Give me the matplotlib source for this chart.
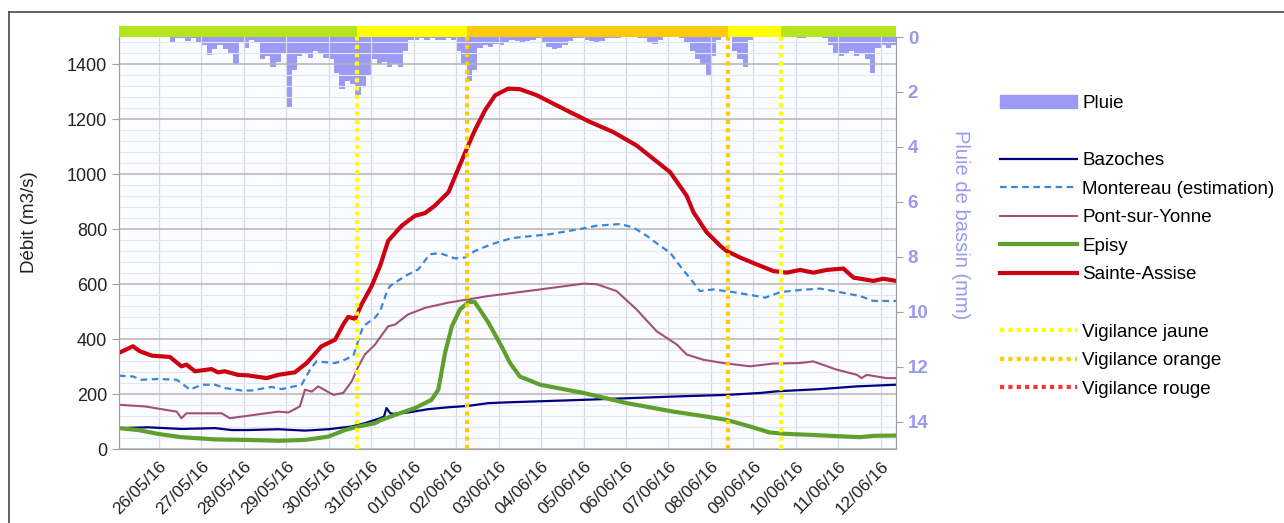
import numpy as np
import matplotlib
matplotlib.use('Agg')
import matplotlib.pyplot as plt
from matplotlib.lines import Line2D
from matplotlib.patches import Patch

plt.rcParams['font.family'] = ['Liberation Sans', 'DejaVu Sans']

# temps en jours depuis le 26/05/16 00:00
t_debut, t_fin = -0.94, 17.36
jours_labels = ['26/05/16', '27/05/16', '28/05/16', '29/05/16', '30/05/16', '31/05/16',
                '01/06/16', '02/06/16', '03/06/16', '04/06/16', '05/06/16', '06/06/16',
                '07/06/16', '08/06/16', '09/06/16', '10/06/16', '11/06/16', '12/06/16']

# pluie de bassin (mm), pas de 3h a partir du 25/05 00:00
pluie_mm = [0, 0, 0, 0, 0, 0, 0, 0,                          # 25/05
            0, 0, 0.2, 0.05, 0.05, 0.15, 0.05, 0.2,           # 26/05
            0.3, 0.65, 0.45, 0.3, 0.45, 0.6, 1.0, 0.2,        # 27/05
            0.4, 0.1, 0.2, 0.8, 0.7, 1.1, 0.9, 0.6,           # 28/05
            2.55, 1.2, 0.7, 0.6, 0.75, 0.5, 0.6, 0.75,        # 29/05
            0.8, 1.3, 1.9, 1.6, 1.7, 2.1, 1.8, 1.4,           # 30/05
            0.8, 1.0, 0.9, 1.1, 1.0, 1.1, 0.5, 0.1,           # 31/05
            0.1, 0.05, 0.1, 0.05, 0.1, 0.1, 0.05, 0.1,        # 01/06
            0.5, 1.0, 1.6, 1.2, 0.4, 0.3, 0.35, 0.25,         # 02/06
            0.3, 0.2, 0.1, 0.15, 0.2, 0.15, 0.1, 0.05,        # 03/06
            0.2, 0.35, 0.45, 0.4, 0.3, 0.15, 0.05, 0.05,      # 04/06
            0.1, 0.15, 0.2, 0.15, 0.05, 0.05, 0.05, 0.0,      # 05/06
            0, 0, 0.05, 0.05, 0.2, 0.25, 0.1, 0,              # 06/06
            0, 0, 0.05, 0.2, 0.5, 0.8, 1.0, 1.4,              # 07/06
            0.7, 0.1, 0, 0, 0.5, 0.8, 1.1, 0.1,               # 08/06
            0, 0, 0, 0, 0, 0, 0, 0,                           # 09/06
            0.05, 0.05, 0, 0, 0, 0.05, 0.3, 0.6,              # 10/06
            0.7, 0.6, 0.5, 0.7, 0.6, 0.8, 1.3, 0.4,           # 11/06
            0.3, 0.4, 0.3]                                    # 12/06

# debits (jour, m3/s)
bazoches = [(-0.94, 76), (-0.25, 79), (0.53, 73), (1.32, 76), (1.71, 69), (2.10, 69),
            (2.81, 72), (3.44, 67), (3.99, 72), (4.54, 82), (4.85, 94), (5.09, 106),
            (5.21, 112), (5.30, 118), (5.36, 149), (5.45, 130), (5.52, 128), (5.87, 133),
            (6.34, 145), (6.82, 152), (7.29, 157), (7.76, 167), (8.23, 170), (10.0, 179),
            (12.12, 191), (13.37, 197), (14.16, 204), (14.55, 210), (15.57, 218),
            (16.44, 228), (17.36, 234)]
montereau = [(-0.94, 267), (-0.61, 264), (-0.41, 252), (-0.02, 255), (0.42, 252), (0.53, 240),
             (0.73, 216), (1.01, 234), (1.32, 234), (1.55, 222), (1.95, 213), (2.18, 213),
             (2.65, 226), (2.89, 218), (3.36, 234), (3.56, 289), (3.71, 319), (4.15, 313),
             (4.38, 325), (4.58, 340), (4.73, 411), (4.81, 447), (5.09, 478), (5.21, 502),
             (5.36, 569), (5.44, 593), (5.80, 630), (6.11, 654), (6.38, 709), (6.62, 713),
             (6.97, 694), (7.21, 697), (7.44, 721), (7.84, 746), (8.23, 764), (8.43, 770),
             (9.21, 782), (9.92, 801), (10.31, 813), (10.86, 819), (11.17, 807), (11.49, 776),
             (11.80, 740), (12.04, 715), (12.27, 667), (12.59, 606), (12.74, 575), (13.06, 581),
             (13.53, 571), (14.00, 559), (14.28, 551), (14.63, 571), (15.10, 579), (15.57, 584),
             (16.04, 571), (16.51, 557), (16.83, 539), (17.36, 539)]
pont_sur_yonne = [(-0.94, 161), (-0.33, 155), (0.14, 143), (0.42, 136), (0.53, 112), (0.65, 130),
                  (1.08, 130), (1.48, 130), (1.67, 112), (1.95, 118), (2.81, 136), (3.05, 133),
                  (3.32, 155), (3.44, 216), (3.60, 209), (3.75, 228), (4.11, 197), (4.34, 204),
                  (4.54, 246), (4.70, 301), (4.85, 344), (5.09, 380), (5.17, 398), (5.40, 447),
                  (5.56, 453), (5.87, 490), (6.27, 514), (6.82, 533), (7.29, 545), (7.76, 557),
                  (8.23, 566), (8.98, 581), (10.0, 602), (10.31, 600), (10.78, 575), (11.25, 508),
                  (11.72, 429), (12.20, 380), (12.43, 344), (12.82, 325), (13.29, 313),
                  (13.92, 301), (14.47, 311), (15.10, 313), (15.41, 319), (15.96, 289),
                  (16.44, 270), (16.55, 258), (16.67, 270), (17.14, 258), (17.36, 258)]
episy = [(-0.94, 76), (-0.49, 69), (-0.02, 55), (0.53, 43), (1.32, 35), (2.10, 33), (2.81, 30),
         (3.44, 33), (3.99, 45), (4.38, 69), (4.70, 82), (5.09, 94), (5.21, 104), (5.56, 124),
         (6.03, 149), (6.42, 179), (6.58, 216), (6.74, 350), (6.90, 447), (7.09, 508),
         (7.29, 535), (7.44, 535), (7.76, 460), (8.07, 374), (8.27, 313), (8.50, 264),
         (8.98, 234), (10.0, 204), (11.02, 167), (12.12, 136), (12.90, 118), (13.37, 106),
         (13.92, 82), (14.39, 60), (14.79, 55), (15.41, 51), (16.51, 43), (16.83, 48),
         (17.36, 49)]
sainte_assise = [(-0.94, 350), (-0.61, 374), (-0.45, 356), (-0.17, 340), (0.26, 335), (0.53, 301),
                 (0.65, 307), (0.85, 283), (1.24, 291), (1.39, 279), (1.55, 283), (1.86, 270),
                 (2.10, 268), (2.54, 258), (2.81, 270), (3.20, 279), (3.48, 313), (3.83, 374),
                 (4.15, 398), (4.34, 453), (4.46, 481), (4.62, 474), (4.77, 526), (5.01, 593),
                 (5.21, 667), (5.40, 758), (5.72, 813), (6.03, 849), (6.27, 859), (6.50, 886),
                 (6.82, 935), (7.05, 1020), (7.25, 1093), (7.44, 1160), (7.68, 1233),
                 (7.92, 1288), (8.23, 1312), (8.50, 1310), (8.90, 1288), (9.60, 1233),
                 (10.15, 1191), (10.70, 1154), (11.25, 1105), (11.64, 1057), (12.04, 1008),
                 (12.43, 922), (12.59, 862), (12.90, 789), (13.22, 740), (13.37, 721),
                 (13.45, 715), (13.69, 697), (14.16, 667), (14.47, 648), (14.79, 642),
                 (15.10, 652), (15.41, 642), (15.73, 652), (16.12, 657), (16.36, 624),
                 (16.83, 612), (17.06, 620), (17.36, 612)]

# vigilances (debut de chaque periode)
vigilance_t = [t_debut, 4.66, 7.26, 13.40, 14.65, t_fin]
vigilance_niveau = ['verte', 'jaune', 'orange', 'jaune', 'verte']

couleurs_bande = {'verte': '#b5e61d', 'jaune': '#ffff00', 'orange': '#ffc90e'}
couleurs_ligne = {'jaune': '#ffff00', 'orange': '#ffcc00', 'rouge': '#ff3333'}

series = [
    ('Bazoches', bazoches, dict(color='#000080', lw=1.6)),
    ('Montereau (estimation)', montereau, dict(color='#3a86d8', lw=1.6, ls=(0, (3, 2)))),
    ('Pont-sur-Yonne', pont_sur_yonne, dict(color='#a24f7c', lw=1.5)),
    ('Episy', episy, dict(color='#5ea02e', lw=3)),
    ('Sainte-Assise', sainte_assise, dict(color='#cc0011', lw=3)),
]

W, H = 1284, 523
fig = plt.figure(figsize=(W / 100, H / 100), dpi=100)
ax = fig.add_axes([119 / W, 1 - 449 / H, (896 - 119) / W, (449 - 37) / H])
ax2 = ax.twinx()
ax.set_zorder(ax2.get_zorder() + 1)
ax.patch.set_visible(False)
ax2.patch.set_visible(True)
ax2.patch.set_facecolor('#fbfcff')

# pluie
rain_t = -1 + 0.125 * (np.arange(len(pluie_mm)) + 0.5)
ax2.bar(rain_t, pluie_mm, width=0.125, color='#9b9bf7', linewidth=0)
ax2.set_ylim(15, 0)
ax2.set_yticks(range(0, 15, 2))
ax2.tick_params(axis='y', colors='#a0a0a0', labelcolor='#9999ee', labelsize=13.5, length=5)
for lab in ax2.get_yticklabels():
    lab.set_fontweight('bold')
ax2.set_ylabel('Pluie de bassin (mm)', color='#9999ee', fontsize=14.5, rotation=270, va='center')
ax2.yaxis.set_label_coords(1.083, 0.545)

# debits
for nom, data, style in series:
    t, v = zip(*data)
    ax.plot(t, v, label=nom, solid_capstyle='round', **style)

# vigilances
for i, niveau in enumerate(vigilance_niveau):
    ax.axvspan(vigilance_t[i], vigilance_t[i + 1], ymin=1.0, ymax=1.0 + 11 / 412,
               color=couleurs_bande[niveau], clip_on=False, lw=0)
for t, niveau in zip(vigilance_t[1:-1], ['jaune', 'orange', 'orange', 'jaune']):
    ax.axvline(t, color=couleurs_ligne[niveau], lw=3, ls=(0, (1, 1)), zorder=5)

ax.set_xlim(t_debut, t_fin)
ax.set_ylim(0, 1500)
ax.set_yticks(range(0, 1401, 200))
ax.set_yticks(range(0, 1500, 40), minor=True)
ax.set_xticks(range(len(jours_labels)))
ax.set_xticklabels(jours_labels, rotation=45, ha='right', rotation_mode='anchor', fontsize=12.5)
ax.tick_params(axis='y', labelsize=13, colors='#a0a0a0', labelcolor='#222222', length=5)
ax.tick_params(axis='y', which='minor', length=0)
ax.tick_params(axis='x', length=0, pad=7, labelcolor='#222222')
ax.grid(axis='y', which='major', color='#b4b4b4', lw=1.1)
ax.grid(axis='y', which='minor', color='#e3e6f0', lw=0.8)
ax.grid(axis='x', which='major', color='#d9d9e6', lw=0.9)
ax.set_ylabel('Débit (m3/s)', fontsize=13.5, color='#222222')
ax.yaxis.set_label_coords(-0.104, 0.55)
for a in (ax, ax2):
    for s in a.spines.values():
        s.set_color('#a0a0a0')
    a.spines['top'].set_visible(False)

# legende
vide = Line2D([], [], color='none')
handles = [Patch(color='#9b9bf7'), vide]
labels = ['Pluie', '']
for nom, data, style in series:
    handles.append(Line2D([], [], **style))
    labels.append(nom)
handles.append(vide)
labels.append('')
for niveau in ['jaune', 'orange', 'rouge']:
    handles.append(Line2D([], [], color=couleurs_ligne[niveau], lw=3, ls=(0, (1, 1))))
    labels.append('Vigilance ' + niveau)
fig.legend(handles, labels, loc='upper left', bbox_to_anchor=(1000 / W, 1 - 95 / H),
           frameon=False, fontsize=13.5, borderpad=0, borderaxespad=0, handlelength=4.1,
           handletextpad=0.3, labelspacing=0.61)

# cadre
fig.add_artist(Line2D([9 / W, 9 / W], [0, 1 - 12 / H], color='#555555', lw=1.3))
fig.add_artist(Line2D([9 / W, 1], [1 - 12 / H, 1 - 12 / H], color='#555555', lw=1.3))

fig.savefig('out.png', dpi=100)
